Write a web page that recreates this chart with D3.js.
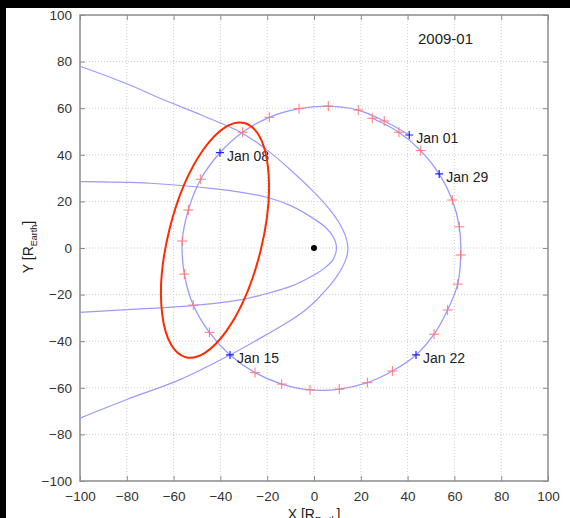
<!DOCTYPE html>
<html>
<head>
<meta charset="utf-8">
<script src="https://cdn.jsdelivr.net/npm/d3@7"></script>
<style>
  body { margin: 0; background: #000; }
  svg { display: block; font-family: "Liberation Sans", Arial, sans-serif; }
</style>
</head>
<body>
<div id="chart"></div>
<script>
// Axis ticks (R_Earth)
const xTicks = [-100, -80, -60, -40, -20, 0, 20, 40, 60, 80, 100];
const yTicks = [-100, -80, -60, -40, -20, 0, 20, 40, 60, 80, 100];

// Daily positions along the orbit, 2009-01-01 .. 2009-02-01
const orbitDays = ['Jan 01', 'Jan 02', 'Jan 03', 'Jan 04', 'Jan 05', 'Jan 06', 'Jan 07', 'Jan 08',
  'Jan 09', 'Jan 10', 'Jan 11', 'Jan 12', 'Jan 13', 'Jan 14', 'Jan 15', 'Jan 16', 'Jan 17',
  'Jan 18', 'Jan 19', 'Jan 20', 'Jan 21', 'Jan 22', 'Jan 23', 'Jan 24', 'Jan 25', 'Jan 26',
  'Jan 27', 'Jan 28', 'Jan 29', 'Jan 30', 'Jan 31', 'Feb 01'];
const orbitX = [40.7, 30.0, 18.9, 6.1, -6.4, -19.1, -30.5, -40.2, -48.4, -53.7, -56.3, -55.4,
  -51.6, -44.7, -35.9, -25.2, -13.8, -1.7, 10.8, 22.8, 33.5, 43.6, 51.3, 57.1, 61.4, 62.7,
  62.1, 59.1, 53.5, 45.6, 36.3, 24.9];
const orbitY = [48.5, 54.5, 59.2, 60.9, 59.8, 56.1, 49.7, 40.9, 29.5, 16.3, 3.0, -11.2,
  -24.5, -36.2, -45.9, -53.5, -58.4, -60.9, -60.6, -57.8, -52.8, -45.9, -37.0, -26.6, -15.5,
  -3.0, 9.1, 20.6, 31.8, 41.8, 49.7, 55.7];
const labelDays = ['Jan 01', 'Jan 08', 'Jan 15', 'Jan 22', 'Jan 29'];

// Bow shock (outer curve)
const shockX = [-100, -80, -64, -48, -31, -20, -10, 0, 4.6, 8.2, 11.2, 13.5, 14.5,
  13.9, 12, 9.3, 5.3, 1.1, -4.2, -11.5, -20, -35.9, -57, -80, -100];
const shockY = [78, 70.5, 63.5, 57, 49.5, 42, 33.5, 24, 19, 14.5, 10, 5, 0,
  -4, -8.5, -12.8, -17.8, -22.3, -27, -32, -37, -45.9, -56.4, -65, -73];

// Magnetopause (inner curve)
const mpauseX = [-100, -70, -42, -31.6, -20.2, -10, 0, 5, 8.2, 9.6, 8.0, 5, 1.1, -10.3, -23, -31.6, -57.3, -70, -100];
const mpauseY = [28.5, 27.8, 25.4, 24, 21.8, 18.2, 12.5, 8.8, 4.8, 0, -5.2, -8.2, -10.9, -16.6, -20.3, -22.3, -25.2, -25.9, -27.6];

// Highlight ellipse: centre x, centre y, semi-axis along x, semi-axis along y, tilt (deg)
const ellipseParams = [-42.3, 3.4, 20, 51.8, 14];

const W = 570, H = 518;
const m = { left: 80, right: 22, top: 15, bottom: 37 };

const svg = d3.select('#chart').append('svg').attr('width', W).attr('height', H);
svg.append('rect').attr('x', 6).attr('y', 8).attr('width', W - 6).attr('height', H - 8).attr('fill', '#fff');

const x = d3.scaleLinear().domain([-100, 100]).range([m.left, W - m.right]);
const y = d3.scaleLinear().domain([-100, 100]).range([H - m.bottom, m.top]);

// grid
const grid = svg.append('g').attr('stroke', '#cfcfcf').attr('stroke-dasharray', '1,2');
grid.selectAll('.gx').data(xTicks.slice(1, -1)).enter().append('line')
  .attr('x1', (d) => x(d)).attr('x2', (d) => x(d)).attr('y1', y(-100)).attr('y2', y(100));
grid.selectAll('.gy').data(yTicks.slice(1, -1)).enter().append('line')
  .attr('y1', (d) => y(d)).attr('y2', (d) => y(d)).attr('x1', x(-100)).attr('x2', x(100));

// axes (matlab style box, ticks inside)
const tickLen = 5;
const axisStyle = (g) => {
  g.select('.domain').remove();
  g.selectAll('.tick line').attr('stroke', '#8c8c8c');
  g.selectAll('.tick text').attr('fill', '#333').style('font-size', '13.5px');
};
svg.append('g').attr('transform', `translate(0,${y(-100)})`)
  .call(d3.axisBottom(x).tickValues(xTicks).tickSizeInner(-tickLen).tickPadding(10).tickSizeOuter(0))
  .call(axisStyle);
svg.append('g').attr('transform', `translate(0,${y(100)})`)
  .call(d3.axisTop(x).tickValues(xTicks).tickSizeInner(-tickLen).tickFormat('').tickSizeOuter(0))
  .call(axisStyle);
svg.append('g').attr('transform', `translate(${x(-100)},0)`)
  .call(d3.axisLeft(y).tickValues(yTicks).tickSizeInner(-tickLen).tickPadding(8).tickSizeOuter(0))
  .call(axisStyle);
svg.append('g').attr('transform', `translate(${x(100)},0)`)
  .call(d3.axisRight(y).tickValues(yTicks).tickSizeInner(-tickLen).tickFormat('').tickSizeOuter(0))
  .call(axisStyle);
svg.append('rect')
  .attr('x', x(-100)).attr('y', y(100))
  .attr('width', x(100) - x(-100)).attr('height', y(-100) - y(100))
  .attr('fill', 'none').attr('stroke', '#8c8c8c').attr('stroke-width', 1.5);

const plot = svg.append('g');
const lineColor = '#9a9aff';
const line = d3.line().x((d) => x(d[0])).y((d) => y(d[1])).curve(d3.curveCatmullRom);

plot.append('path').datum(d3.zip(shockX, shockY)).attr('d', line)
  .attr('fill', 'none').attr('stroke', lineColor).attr('stroke-width', 1.2);
plot.append('path').datum(d3.zip(mpauseX, mpauseY)).attr('d', line)
  .attr('fill', 'none').attr('stroke', lineColor).attr('stroke-width', 1.2);
plot.append('path').datum(d3.zip(orbitX, orbitY)).attr('d', line)
  .attr('fill', 'none').attr('stroke', lineColor).attr('stroke-width', 1.3);

// earth
plot.append('circle').attr('cx', x(0)).attr('cy', y(0)).attr('r', 3).attr('fill', '#000');

// daily markers
const orbit = orbitDays.map((d, i) => ({ day: d, x: orbitX[i], y: orbitY[i], label: labelDays.includes(d) }));
const plus = (s) => `M${-s},0H${s}M0,${-s}V${s}`;
plot.selectAll('.day').data(orbit.filter((d) => !d.label)).enter().append('path')
  .attr('transform', (d) => `translate(${x(d.x)},${y(d.y)})`)
  .attr('d', plus(5)).attr('stroke', '#ff7878').attr('stroke-width', 1).attr('fill', 'none');
plot.selectAll('.week').data(orbit.filter((d) => d.label)).enter().append('path')
  .attr('transform', (d) => `translate(${x(d.x)},${y(d.y)})`)
  .attr('d', plus(4)).attr('stroke', '#2020ff').attr('stroke-width', 1.2).attr('fill', 'none');
plot.selectAll('.lbl').data(orbit.filter((d) => d.label)).enter().append('text')
  .attr('x', (d) => x(d.x) + 7).attr('y', (d) => y(d.y) + 3.5)
  .attr('dominant-baseline', 'central')
  .attr('fill', '#222').style('font-size', '14px').text((d) => d.day);

// highlight ellipse
const [ecx, ecy, erx, ery, etilt] = ellipseParams;
plot.append('ellipse')
  .attr('cx', x(ecx)).attr('cy', y(ecy))
  .attr('rx', x(erx) - x(0)).attr('ry', y(0) - y(ery))
  .attr('transform', `rotate(${etilt},${x(ecx)},${y(ecy)})`)
  .attr('fill', 'none').attr('stroke', '#ff2a00').attr('stroke-width', 2);

// title and axis labels
svg.append('text').attr('x', 418).attr('y', 38.5).attr('dominant-baseline', 'central')
  .attr('fill', '#222').style('font-size', '15px').text('2009-01');

const xl = svg.append('text').attr('x', x(0)).attr('y', 519).attr('text-anchor', 'middle')
  .attr('fill', '#222').style('font-size', '14px');
xl.append('tspan').text('X [R');
xl.append('tspan').attr('dy', 4).style('font-size', '9px').text('Earth');
xl.append('tspan').attr('dy', -4).text(']');

const yl = svg.append('text').attr('transform', `translate(33,247) rotate(-90)`).attr('text-anchor', 'middle')
  .attr('fill', '#222').style('font-size', '14px');
yl.append('tspan').text('Y [R');
yl.append('tspan').attr('dy', 4).style('font-size', '9px').text('Earth');
yl.append('tspan').attr('dy', -4).text(']');
</script>
</body>
</html>
